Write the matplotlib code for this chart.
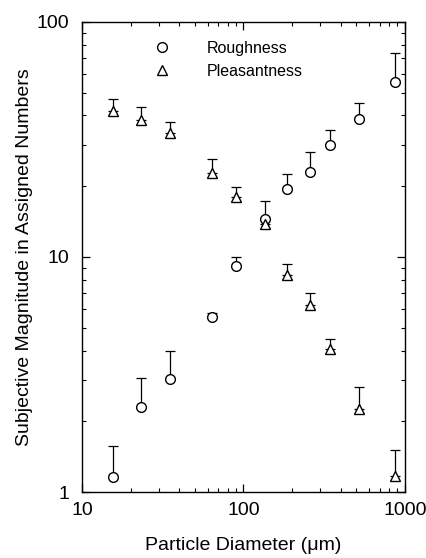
import numpy as np
import matplotlib
matplotlib.use('Agg')
import matplotlib.pyplot as plt
from matplotlib import ticker

# particle diameter (um)
rough_x = [15.6, 23.2, 35.2, 64, 90.6, 137, 187, 260, 342, 518, 867]
rough_y = [1.16, 2.3, 3.03, 5.56, 9.17, 14.5, 19.5, 23, 30, 38.6, 55.6]
rough_top = [1.57, 3.05, 4.0, 5.8, 10.0, 17.3, 22.5, 28, 34.7, 45.2, 73.8]

pleas_x = [15.6, 23.2, 35.2, 64, 90.6, 137, 187, 260, 342, 518, 867]
pleas_y = [41.8, 38.3, 33.8, 22.8, 18.0, 13.8, 8.4, 6.25, 4.06, 2.25, 1.17]
pleas_top = [47, 43.5, 37.5, 26.1, 19.9, 14.5, 9.3, 7.0, 4.48, 2.8, 1.51]

plt.rcParams['font.family'] = ['Liberation Sans', 'DejaVu Sans']

fig = plt.figure(figsize=(4.27, 5.58), dpi=100)
ax = fig.add_axes([0.192, 0.118, 0.756, 0.843])


def draw(x, y, top, marker, label):
    y = np.array(y)
    up = np.array(top) - y
    ax.errorbar(x, y, yerr=[np.zeros_like(up), up], fmt='none', ecolor='black',
                elinewidth=0.9, capsize=3.5, capthick=0.9, zorder=2)
    ax.plot(x, y, linestyle='none', marker=marker, markersize=7, markerfacecolor='white',
            markeredgecolor='black', markeredgewidth=1.0, zorder=3, label=label)


draw(rough_x, rough_y, rough_top, 'o', 'Roughness')
draw(pleas_x, pleas_y, pleas_top, '^', 'Pleasantness')

ax.set_xscale('log')
ax.set_yscale('log')
ax.set_xlim(10, 1000)
ax.set_ylim(1, 100)

ax.xaxis.set_major_formatter(ticker.FuncFormatter(lambda v, p: '%d' % v))
ax.yaxis.set_major_formatter(ticker.FuncFormatter(lambda v, p: '%d' % v))
ax.tick_params(which='both', direction='in', top=True, right=True, labelsize=14)
ax.tick_params(which='major', length=6, width=0.9)
ax.tick_params(which='minor', length=3, width=0.8)
ax.tick_params(axis='x', pad=7)
ax.tick_params(axis='y', pad=9)
for s in ax.spines.values():
    s.set_linewidth(1.0)

ax.set_xlabel('Particle Diameter (\u03bcm)', fontsize=14, labelpad=13)
ax.set_ylabel('Subjective Magnitude in Assigned Numbers', fontsize=14, labelpad=3)

leg = ax.legend(loc='upper left', bbox_to_anchor=(0.155, 0.99), frameon=False,
                fontsize=11.5, handletextpad=1.8, labelspacing=0.5, numpoints=1)

plt.savefig('out.png', dpi=100)
